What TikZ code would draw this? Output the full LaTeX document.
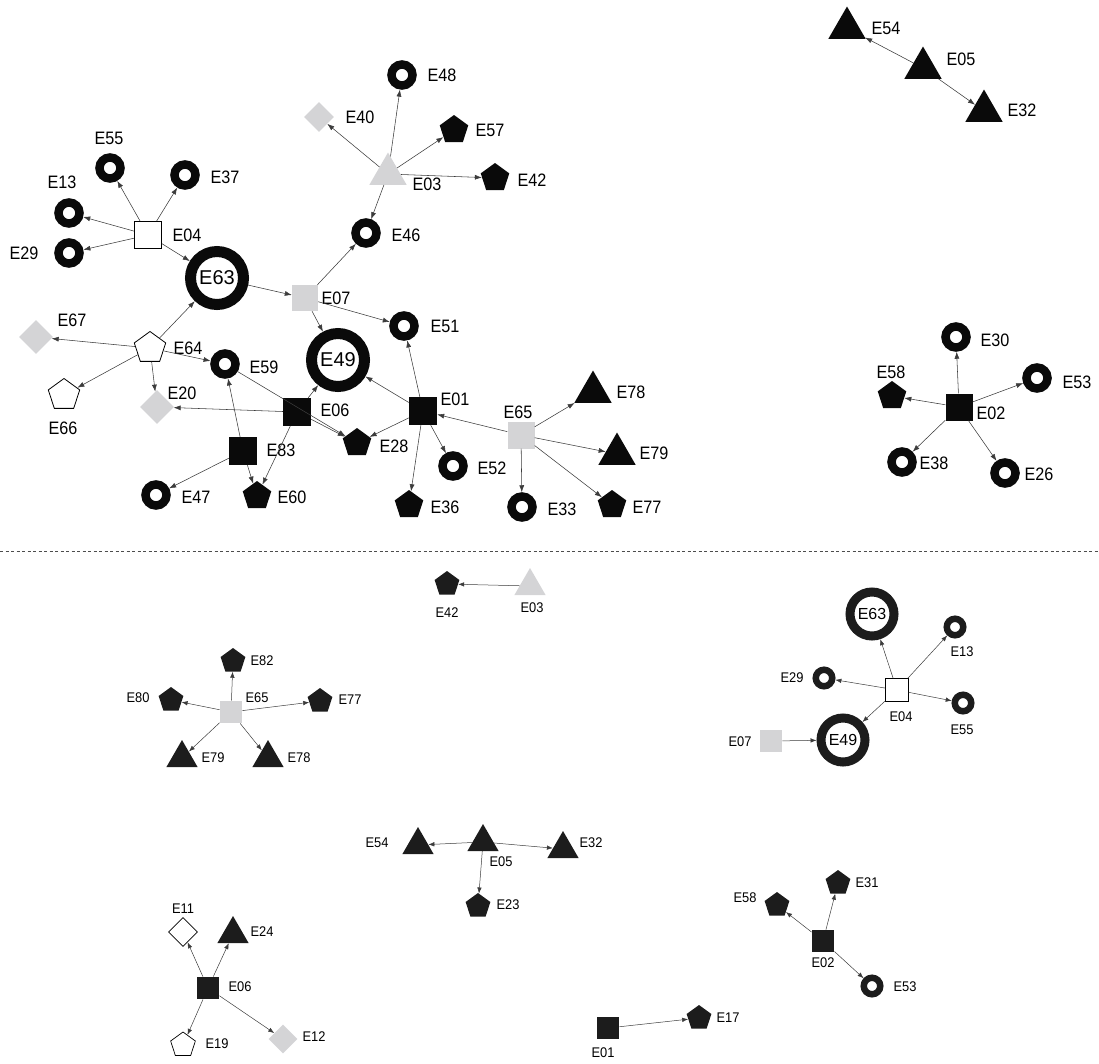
\documentclass[tikz,border=0pt]{standalone}
\usepackage{fontspec}
\usetikzlibrary{shapes.geometric,arrows.meta}
\newfontfamily\labfont[FakeStretch=0.9]{Liberation Sans}
\newfontfamily\blabfont[FakeStretch=0.92]{Liberation Sans}
\newfontfamily\bigfont{Liberation Sans}
\definecolor{gr}{RGB}{212,212,214}
\definecolor{blk}{RGB}{10,10,10}
\definecolor{bblk}{RGB}{28,28,28}
\definecolor{edgec}{RGB}{60,60,60}
\begin{document}
\begin{tikzpicture}[x=1pt,y=-1pt,
  ring/.style={circle,draw=blk,line width=8.5pt,minimum size=21pt,inner sep=0pt},
  bigring/.style={circle,draw=blk,line width=11pt,minimum size=53pt,inner sep=0pt,font=\bigfont\fontsize{20}{20}\selectfont},
  sqr/.style={rectangle,minimum size=27pt,inner sep=0pt},
  tri/.style={regular polygon,regular polygon sides=3,minimum size=43pt,inner sep=0pt},
  pent/.style={regular polygon,regular polygon sides=5,minimum size=30pt,inner sep=0pt},
  wpent/.style={regular polygon,regular polygon sides=5,minimum size=33pt,inner sep=0pt,draw=black,line width=0.8pt,fill=white},
  dia/.style={diamond,aspect=1,minimum width=34pt,minimum height=34pt,inner sep=0pt},
  lbl/.style={font=\labfont\fontsize{18}{18}\selectfont,inner sep=0pt},
  arr/.style={draw=edgec,line width=0.55pt,-{Latex[length=7pt,width=5pt]}},
  bring/.style={circle,draw=bblk,line width=6.5pt,minimum size=16.5pt,inner sep=0pt},
  bbigring/.style={circle,draw=bblk,line width=9pt,minimum size=44pt,inner sep=0pt,font=\bigfont\fontsize{16}{16}\selectfont},
  bsqr/.style={rectangle,minimum size=22.5pt,inner sep=0pt},
  btri/.style={regular polygon,regular polygon sides=3,minimum size=36pt,inner sep=0pt,fill=bblk},
  bpent/.style={regular polygon,regular polygon sides=5,minimum size=26pt,inner sep=0pt},
  bdia/.style={diamond,aspect=1,minimum width=29pt,minimum height=29pt,inner sep=0pt},
  blbl/.style={font=\blabfont\fontsize{14}{14}\selectfont,inner sep=0pt},
  barr/.style={draw=edgec,line width=0.5pt,-{Latex[length=6pt,width=4.5pt]}},
  sep/.style={draw=black!70,line width=0.7pt,dash pattern=on 3pt off 2.5pt}
]
\useasboundingbox (0,0) rectangle (1099,1063);

% ===== top: E05 group
\node[tri,fill=blk] (E54) at (847,28) {};
\node[tri,fill=blk] (E05) at (923,68) {};
\node[tri,fill=blk] (E32) at (984,111) {};
\node[lbl] (lE54) at (886,28) {E54};
\node[lbl] (lE05) at (961,59) {E05};
\node[lbl] (lE32) at (1022,110) {E32};

% ===== top: E02 group
\node[sqr,fill=blk] (E02) at (959,407) {};
\node[ring] (E30) at (956,337) {};
\node[ring] (E53) at (1037,378) {};
\node[pent,fill=blk] (E58) at (892,396) {};
\node[ring] (E38) at (902,462) {};
\node[ring] (E26) at (1005,473) {};
\node[lbl] (lE02) at (991,413) {E02};
\node[lbl] (lE30) at (995,340) {E30};
\node[lbl] (lE53) at (1077,382) {E53};
\node[lbl] (lE58) at (891,372) {E58};
\node[lbl] (lE38) at (934,463) {E38};
\node[lbl] (lE26) at (1039,474) {E26};

% ===== top: main graph
\node[sqr,fill=white,draw=black,line width=0.8pt] (E04) at (148,235) {};
\node[ring] (E55) at (110,168) {};
\node[ring] (E37) at (185,175) {};
\node[ring] (E13) at (69,213) {};
\node[ring] (E29) at (69,253) {};
\node[bigring] (E63) at (217,278) {E63};
\node[ring] (E48) at (402,75) {};
\node[dia,fill=gr,minimum width=30pt,minimum height=30pt] (E40) at (319,117) {};
\node[pent,fill=blk] (E57) at (454,130) {};
\node[tri,fill=gr] (E03) at (388,174) {};
\node[pent,fill=blk] (E42) at (495,178) {};
\node[ring] (E46) at (366,233) {};
\node[sqr,fill=gr,minimum size=26pt] (E07) at (305,298) {};
\node[ring] (E51) at (404,326) {};
\node[bigring] (E49) at (338,360) {E49};
\node[dia,fill=gr] (E67) at (36,337) {};
\node[wpent] (E64) at (150,348) {};
\node[wpent] (E66) at (64,395) {};
\node[ring] (E59) at (225,364) {};
\node[dia,fill=gr] (E20) at (157,407) {};
\node[sqr,fill=blk,minimum size=28pt] (E06) at (297,412) {};
\node[sqr,fill=blk,minimum size=28pt] (E83) at (243,451) {};
\node[ring] (E47) at (156,495) {};
\node[pent,fill=blk] (E60) at (257,496) {};
\node[sqr,fill=blk,minimum size=28pt] (E01) at (423,411) {};
\node[pent,fill=blk] (E28) at (357,443) {};
\node[ring] (E52) at (453,466) {};
\node[pent,fill=blk] (E36) at (409,505) {};
\node[sqr,fill=gr] (E65) at (521,435) {};
\node[tri,fill=blk] (E78) at (593,392) {};
\node[tri,fill=blk] (E79) at (617,454) {};
\node[ring] (E33) at (522,507) {};
\node[pent,fill=blk] (E77) at (612,505) {};

\node[lbl] (lE04) at (187,235) {E04};
\node[lbl] (lE55) at (109,138) {E55};
\node[lbl] (lE37) at (225,177) {E37};
\node[lbl] (lE13) at (62,182) {E13};
\node[lbl] (lE29) at (24,253) {E29};
\node[lbl] (lE48) at (442,75) {E48};
\node[lbl] (lE40) at (360,117) {E40};
\node[lbl] (lE57) at (490,130) {E57};
\node[lbl] (lE03) at (427,184) {E03};
\node[lbl] (lE42) at (532,180) {E42};
\node[lbl] (lE46) at (406,235) {E46};
\node[lbl] (lE07) at (336,298) {E07};
\node[lbl] (lE51) at (445,326) {E51};
\node[lbl] (lE67) at (72,320) {E67};
\node[lbl] (lE64) at (188,348) {E64};
\node[lbl] (lE66) at (63,428) {E66};
\node[lbl] (lE59) at (264,367) {E59};
\node[lbl] (lE20) at (182,393) {E20};
\node[lbl] (lE06) at (335,410) {E06};
\node[lbl] (lE83) at (281,450) {E83};
\node[lbl] (lE47) at (196,497) {E47};
\node[lbl] (lE60) at (292,497) {E60};
\node[lbl] (lE01) at (455,399) {E01};
\node[lbl] (lE28) at (394,446) {E28};
\node[lbl] (lE52) at (492,468) {E52};
\node[lbl] (lE36) at (445,507) {E36};
\node[lbl] (lE65) at (518,412) {E65};
\node[lbl] (lE78) at (631,392) {E78};
\node[lbl] (lE79) at (654,453) {E79};
\node[lbl] (lE33) at (562,509) {E33};
\node[lbl] (lE77) at (647,507) {E77};

% top edges
\draw[arr] (E05) -- (E54);
\draw[arr] (E05) -- (E32);
\foreach \t in {E30,E53,E58,E38,E26} \draw[arr] (E02) -- (\t);
\foreach \t in {E55,E37,E13,E29,E63} \draw[arr] (E04) -- (\t);
\draw[arr] (E63) -- (E07);
\foreach \t in {E48,E40,E57,E42,E46} \draw[arr] (E03) -- (\t);
\foreach \t in {E46,E51,E49} \draw[arr] (E07) -- (\t);
\foreach \t in {E63,E67,E66,E59,E20} \draw[arr] (E64) -- (\t);
\foreach \t in {E20,E49,E60,E28} \draw[arr] (E06) -- (\t);
\draw[arr] (E59) -- (E28);
\foreach \t in {E59,E47,E60} \draw[arr] (E83) -- (\t);
\foreach \t in {E49,E51,E28,E52,E36} \draw[arr] (E01) -- (\t);
\foreach \t in {E01,E78,E79,E33,E77} \draw[arr] (E65) -- (\t);

% separator
\coordinate (sepL) at (0,551);
\coordinate (sepR) at (1099,551);
\draw[sep] (sepL) -- (sepR);

% ===== bottom
\node[bpent,fill=bblk] (bE42) at (447,584) {};
\node[btri,fill=gr] (bE03) at (530,586) {};
\node[blbl] (lbE42) at (447,613) {E42};
\node[blbl] (lbE03) at (532,608) {E03};

\node[bsqr,fill=gr] (bE65) at (231,712) {};
\node[bpent,fill=bblk] (bE82) at (233,661) {};
\node[bpent,fill=bblk] (bE80) at (171,700) {};
\node[bpent,fill=bblk] (bE77) at (320,701) {};
\node[btri] (bE79) at (182,758) {};
\node[btri] (bE78) at (268,758) {};
\node[blbl] (lbE65) at (257,698) {E65};
\node[blbl] (lbE82) at (262,661) {E82};
\node[blbl] (lbE80) at (138,698) {E80};
\node[blbl] (lbE77) at (350,700) {E77};
\node[blbl] (lbE79) at (213,758) {E79};
\node[blbl] (lbE78) at (299,758) {E78};

\node[bbigring] (bE63) at (872,614) {E63};
\node[bring] (bE13) at (955,627) {};
\node[bring] (bE29) at (824,678) {};
\node[bsqr,fill=white,draw=black,line width=0.7pt] (bE04) at (897,690) {};
\node[bring] (bE55) at (963,703) {};
\node[bbigring] (bE49) at (843,740) {E49};
\node[bsqr,fill=gr] (bE07) at (771,741) {};
\node[blbl] (lbE13) at (962,652) {E13};
\node[blbl] (lbE29) at (792,678) {E29};
\node[blbl] (lbE04) at (901,717) {E04};
\node[blbl] (lbE55) at (962,730) {E55};
\node[blbl] (lbE07) at (740,742) {E07};

\node[btri] (bE54) at (418,845) {};
\node[btri] (bE05) at (483,842) {};
\node[btri] (bE32) at (563,849) {};
\node[bpent,fill=bblk] (bE23) at (478,906) {};
\node[blbl] (lbE54) at (377,843) {E54};
\node[blbl] (lbE05) at (501,862) {E05};
\node[blbl] (lbE32) at (591,843) {E32};
\node[blbl] (lbE23) at (508,905) {E23};

\node[bdia,fill=white,draw=black,line width=0.7pt] (bE11) at (183,932) {};
\node[btri] (bE24) at (233,934) {};
\node[bsqr,fill=bblk] (bE06) at (208,988) {};
\node[bpent,fill=white,draw=black,line width=0.7pt] (bE19) at (183,1045) {};
\node[bdia,fill=gr] (bE12) at (283,1039) {};
\node[blbl] (lbE11) at (183,909) {E11};
\node[blbl] (lbE24) at (262,932) {E24};
\node[blbl] (lbE06) at (240,987) {E06};
\node[blbl] (lbE19) at (217,1044) {E19};
\node[blbl] (lbE12) at (314,1037) {E12};

\node[bpent,fill=bblk] (bE31) at (838,883) {};
\node[bpent,fill=bblk] (bE58) at (777,905) {};
\node[bsqr,fill=bblk] (bE02) at (823,941) {};
\node[bring] (bE53) at (872,986) {};
\node[bsqr,fill=bblk] (bE01) at (608,1028) {};
\node[bpent,fill=bblk] (bE17) at (699,1018) {};
\node[blbl] (lbE31) at (867,883) {E31};
\node[blbl] (lbE58) at (745,898) {E58};
\node[blbl] (lbE02) at (823,963) {E02};
\node[blbl] (lbE53) at (905,987) {E53};
\node[blbl] (lbE01) at (603,1053) {E01};
\node[blbl] (lbE17) at (728,1018) {E17};

% bottom edges
\draw[barr] (bE03) -- (bE42);
\foreach \t in {bE82,bE80,bE77,bE79,bE78} \draw[barr] (bE65) -- (\t);
\foreach \t in {bE63,bE13,bE29,bE55,bE49} \draw[barr] (bE04) -- (\t);
\draw[barr] (bE07) -- (bE49);
\foreach \t in {bE54,bE32,bE23} \draw[barr] (bE05) -- (\t);
\foreach \t in {bE11,bE24,bE19,bE12} \draw[barr] (bE06) -- (\t);
\foreach \t in {bE31,bE58,bE53} \draw[barr] (bE02) -- (\t);
\draw[barr] (bE01) -- (bE17);
\end{tikzpicture}
\end{document}
